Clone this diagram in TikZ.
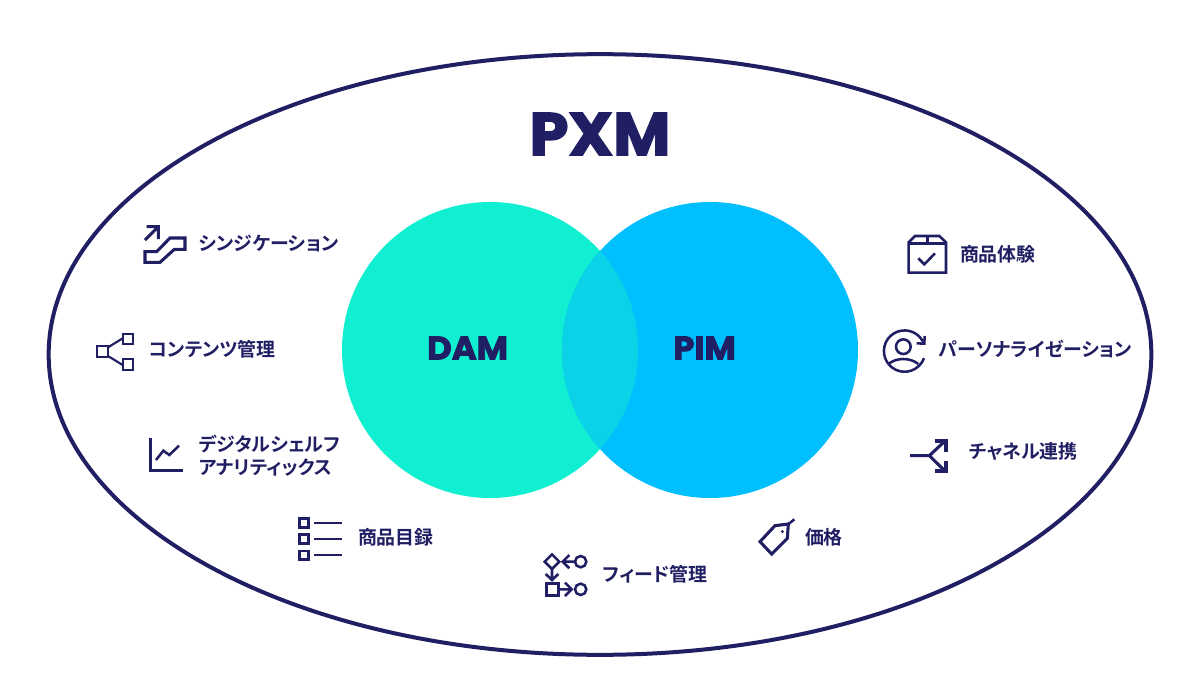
\documentclass[tikz,border=0pt]{standalone}
\usepackage{fontspec}
\usetikzlibrary{shapes.geometric}
\setmainfont{Noto Sans CJK JP Bold}
\newfontfamily\jpfont[RawFeature=+palt]{Noto Sans CJK JP Bold}
\newfontfamily\heavyfont[FakeBold=2.4,FakeStretch=1.04]{Poppins Bold}
\definecolor{navy}{HTML}{211F63}
\definecolor{damc}{HTML}{10EFD2}
\definecolor{pimc}{HTML}{00BFFF}
\definecolor{lensc}{HTML}{0BD2E6}
\tikzset{
 px/.style={x=0.75pt,y=-0.75pt},
 zoomed/.style={x=0.25pt,y=-0.25pt},
 lab/.style={anchor=west,inner sep=0pt,outer sep=0pt,text=navy,font=\jpfont\fontsize{14.2pt}{17.3pt}\selectfont,align=left},
 big/.style={inner sep=0pt,text=navy},
 disc/.style={circle,inner sep=0pt,outer sep=0pt,minimum size=222pt},
 ic/.style={draw=navy,line width=1.9pt,line join=miter,fill=none},
 icthick/.style={draw=navy,line width=2.3pt,line join=miter,fill=none},
 icthin/.style={draw=navy,line width=1.6pt,fill=none},
}
\begin{document}
\begin{tikzpicture}[px]
\useasboundingbox (0,0) rectangle (1200,700);
\fill[white] (0,0) rectangle (1200,700);
\node[ellipse,draw=navy,line width=3pt,inner sep=0pt,outer sep=0pt,minimum width=827pt,minimum height=450.5pt] (pxmring) at (600,354.5) {};
\node[disc,fill=damc] (dam) at (490,350) {};
\node[disc,fill=pimc] (pim) at (710,350) {};
\begin{scope}
\clip (490,350) circle [radius=148];
\fill[lensc] (710,350) circle [radius=148];
\end{scope}
\node[big,font=\heavyfont\fontsize{45pt}{45pt}\selectfont] (pxm) at (600,134) {PXM};
\node[big,font=\heavyfont\fontsize{24.5pt}{25pt}\selectfont] (damt) at (467.5,348) {DAM};
\node[big,font=\heavyfont\fontsize{24.5pt}{25pt}\selectfont] (pimt) at (704.5,348) {PIM};
\node[lab] (t1) at (199,243.5) {シンジケーション};
\node[lab] (t2) at (149,349) {コンテンツ管理};
\node[lab] (t3) at (199,455.5) {デジタルシェルフ\\アナリティックス};
\node[lab] (t4) at (358,537) {商品目録};
\node[lab] (t5) at (603,574) {フィード管理};
\node[lab] (t6) at (805,537) {価格};
\node[lab] (t7) at (960,254) {商品体験};
\node[lab] (t8) at (939,349) {パーソナライゼーション};
\node[lab] (t9) at (969,451) {チャネル連携};
% icons traced in zoom coordinates
\begin{scope}[shift={(80,210)},zoomed]
\draw[icthick] (195,90) -- (235,50) (200,50) -- (235,50) -- (235,87);
\draw[icthick] (195,125) -- (230,125) -- (270,84) -- (315,84) -- (315,118) -- (283,118) -- (240,157) -- (195,157) -- cycle;
\draw[icthin] (51,409) rectangle (84,441) (128,372) rectangle (160,403) (128,448) rectangle (160,480);
\draw[icthin] (84,412) -- (128,385) (84,438) -- (128,465);
\end{scope}
\begin{scope}[shift={(130,420)},zoomed]
\draw[ic] (62,55) -- (62,152) -- (158,152);
\draw[ic] (78,120) -- (100,92) -- (118,105) -- (147,77);
\draw[ic] (509,296) rectangle (536,322) (509,344) rectangle (536,370) (509,393) rectangle (536,419);
\draw[icthin] (552,308) -- (637,308) (552,356) -- (637,356) (552,405) -- (637,405);
\end{scope}
\begin{scope}[shift={(530,510)},zoomed]
\draw[ic] (66,133) -- (88,155) -- (66,177) -- (44,155) -- cycle;
\draw[ic] (152,155) circle [radius=17];
\draw[ic] (135,155) -- (98,155) (118,135) -- (98,155) -- (118,175);
\draw[ic] (66,177) -- (66,210) (47,192) -- (66,210) -- (85,192);
\draw[ic] (50,221) rectangle (85,257);
\draw[ic] (85,238) -- (125,238) (105,218) -- (125,238) -- (105,258);
\draw[ic] (152,238) circle [radius=17];
\draw[icthick] (690,95) -- (735,47) -- (775,42) -- (772,85) -- (725,132) -- cycle;
\draw[ic] (772,45) -- (793,28);
\fill[navy] (757,65) circle [radius=5];
\end{scope}
\begin{scope}[shift={(870,225)},zoomed]
\draw[ic] (116,52) -- (135,33) -- (208,33) -- (228,52) -- (228,143) -- (116,143) -- cycle;
\draw[ic] (116,55) -- (228,55) (172,33) -- (172,55);
\draw[ic] (145,100) -- (163,118) -- (195,85);
\draw[ic] (162,357) arc [start angle=-20,end angle=-340,x radius=62,y radius=62];
\draw[ic] (164,333) -- (163,356) -- (140,355);
\draw[ic] (100,365) circle [radius=22];
\draw[ic] (55,417) .. controls (80,397) and (120,397) .. (145,417);
\draw[icthick] (120,692) -- (178,692) -- (225,648) (178,692) -- (225,738);
\draw[icthick] (195,648) -- (228,648) -- (228,680) (195,738) -- (228,738) -- (228,708);
\end{scope}
\end{tikzpicture}
\end{document}
